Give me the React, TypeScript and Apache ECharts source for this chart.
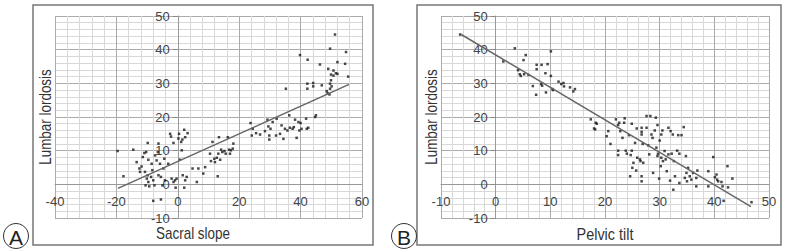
import React, { useEffect, useRef } from "react";
import * as echarts from "echarts";

const FONT = "'Liberation Sans', Arial, sans-serif";

// Panel A: sacral slope vs lumbar lordosis
const sacralAxis = { min: -40, max: 60, interval: 20 };
const lordosisAxis = { min: -10, max: 50, interval: 10 };
const pointsA: [number, number][] = [
  [-19.6, 9.9], [-17.7, 2.4], [-14.5, 10.3], [-13.4, 6.6], [-12.5, 4.7], [-12.3, 3.7], [-11.4, 8.1], [-10.9, 9.3],
  [-10.3, 9.6], [-9.8, 12.3], [-9.6, 7.3], [-11.8, 5.3], [-10.7, 3.7], [-9.8, 2.7], [-10.1, 1.7], [-9.6, 0.7],
  [-10.5, -0.3], [-9.3, -0.6], [-8.5, 6.1], [-8.3, 4.2], [-8.7, 2.2], [-8.0, 1.2], [-7.6, -0.3], [-7.4, 8.6],
  [-6.5, 9.6], [-6.3, 12.1], [-6.9, 7.1], [-5.8, 6.1], [-5.5, 2.2], [-6.3, 2.7], [-4.7, 4.7], [-4.4, 7.6],
  [-4.2, 1.2], [-5.0, -0.3], [-3.1, 6.1], [-2.5, 15.0], [-2.2, 14.2], [-1.4, 12.3], [-2.0, 1.7], [-1.4, 0.7],
  [-0.9, 1.2], [-0.4, 1.7], [-0.7, -1.0], [0.2, 13.6], [0.4, 15.0], [1.1, 12.6], [1.5, 13.3], [2.1, 16.2],
  [2.4, 14.0], [3.2, 15.2], [1.3, 10.1], [0.7, 7.3], [1.6, 2.7], [2.4, 1.2], [2.1, -1.0], [2.9, 2.2],
  [4.8, 4.7], [6.2, 0.7], [6.7, 4.7], [8.3, 3.2], [8.9, 5.1], [10.5, 9.1], [10.8, 6.9], [11.3, 12.6],
  [11.9, 7.6], [12.1, 6.6], [12.7, 7.9], [13.2, 9.1], [13.4, 14.0], [13.8, 7.3], [14.1, 10.3], [13.0, 2.4],
  [14.5, 9.6], [15.2, 9.9], [15.6, 9.1], [16.3, 14.0], [16.7, 10.3], [17.0, 9.1], [17.3, 10.1], [18.1, 12.1],
  [-8.0, -4.9], [-5.5, -4.5], [17.9, 10.6],
  [23.7, 18.2], [24.4, 16.5], [24.1, 14.5], [25.5, 15.2], [26.8, 14.8], [28.4, 15.8], [29.2, 19.2], [29.5, 17.2],
  [29.8, 14.5], [30.2, 16.5], [29.8, 13.3], [30.9, 18.5], [32.0, 14.5], [32.2, 19.5], [33.3, 15.0], [33.8, 17.5],
  [34.4, 13.5], [34.9, 16.5], [35.2, 28.4], [35.7, 16.0], [36.3, 20.5], [36.5, 16.8], [37.4, 16.5], [37.8, 17.0],
  [38.2, 19.2], [38.7, 13.8], [39.3, 18.5], [39.6, 16.0], [40.0, 18.2], [40.3, 16.5], [39.8, 38.4], [42.0, 16.5],
  [42.3, 37.0], [42.5, 16.8], [42.2, 28.4], [42.2, 29.9], [44.1, 30.1], [44.1, 29.1], [41.8, 19.5], [44.7, 20.0],
  [45.0, 20.5], [46.3, 35.6], [46.9, 29.4], [48.5, 27.7], [48.8, 27.1], [49.4, 26.7], [49.6, 28.4], [49.6, 29.9],
  [49.9, 30.9], [50.1, 29.1], [49.0, 34.3], [49.6, 40.3], [49.9, 32.6], [50.7, 33.8], [51.2, 44.5], [51.5, 33.0],
  [52.0, 36.3], [52.0, 32.8], [50.7, 32.3], [54.5, 35.8], [54.8, 39.3], [55.5, 32.0],
];
const fitA: [number, number][] = [[-19.5, -1.2], [55.8, 29.7]];

// Panel B: pelvic tilt vs lumbar lordosis
const pelvicAxis = { min: -10, max: 50, interval: 10 };
const pointsB: [number, number][] = [
  [-6.5, 44.5], [1.4, 36.5], [3.5, 40.4], [4.1, 33.9], [4.4, 32.7], [4.6, 32.2], [5.2, 32.7], [5.1, 36.9],
  [5.5, 38.4], [6.0, 32.5], [6.8, 29.2], [7.4, 26.6], [7.5, 35.5], [7.5, 34.2], [8.4, 35.5], [8.3, 29.8],
  [8.5, 29.3], [9.1, 33.0], [9.2, 27.3], [9.5, 35.7], [10.1, 39.5], [10.1, 32.2], [10.4, 28.3], [10.5, 28.0],
  [11.5, 30.5], [12.0, 29.8], [12.4, 30.1], [12.5, 29.1], [13.6, 28.8], [14.2, 27.6], [14.5, 28.3],
  [17.4, 19.3], [18.5, 18.0], [18.2, 16.3], [18.3, 18.3], [18.0, 16.6],
  [20.3, 14.3], [20.6, 15.8], [21.0, 12.0], [22.0, 19.3], [22.4, 17.6], [22.6, 18.3], [22.8, 15.8], [22.4, 10.0],
  [22.4, 8.7], [23.2, 13.8], [23.5, 18.3], [23.6, 19.6], [23.8, 10.0], [24.0, 9.1], [24.4, 14.6], [24.6, 2.4],
  [24.7, 8.7], [24.9, 18.0], [24.9, 10.0], [25.0, 4.9], [25.2, 6.4], [25.5, 12.3], [25.7, 4.1], [25.8, 16.6],
  [25.9, 7.9], [26.4, 7.4], [26.5, 6.9], [26.7, 16.8], [26.7, 15.6], [26.7, 14.8], [26.7, 2.4], [26.7, 0.9],
  [26.9, 12.0], [27.0, 6.4], [27.6, 16.8], [27.6, 20.3], [27.9, 11.6], [28.1, 8.9], [28.3, 20.3], [28.5, 14.8],
  [28.7, 13.8], [28.8, 3.4], [29.1, 16.0], [29.3, 19.8], [29.4, 10.9], [29.6, 8.4], [29.6, 17.6], [29.7, 9.1],
  [29.9, 1.7], [30.0, 13.0], [30.2, 5.4], [30.3, 14.8], [30.3, 7.9], [30.5, 16.0], [30.6, 6.9], [30.9, 9.9],
  [31.1, 7.4], [31.3, 3.9], [31.6, 16.8], [31.6, 8.9], [31.9, 1.1], [32.0, 15.8], [32.2, 9.1], [32.4, 14.8],
  [32.5, -1.6], [32.6, 6.9], [32.8, 2.4], [33.2, 10.0], [33.4, 14.6], [33.6, 9.1], [33.6, 0.4], [34.0, 14.6],
  [34.4, 17.0], [34.6, 1.9], [34.8, 8.4], [34.9, 3.4], [35.0, 0.9], [35.2, 4.9], [35.5, 2.4], [35.8, 1.4],
  [36.1, 3.4], [36.7, 1.9], [36.9, 4.1], [36.7, -0.6], [38.9, 3.9], [38.9, -0.6], [39.8, 8.1], [40.1, 2.1],
  [40.4, 2.9], [40.5, 1.4], [40.7, 0.9], [41.3, 0.7], [41.5, -0.6], [42.4, 5.4], [42.5, -0.9], [43.3, 1.7],
  [46.8, -5.3], [41.7, -4.9],
];
const fitB: [number, number][] = [[-6.3, 44.5], [46.7, -6.6]];

const labelStyle = { fontSize: 13, color: "#444", fontFamily: FONT };
const majorLine = { color: "#ababab", width: 1 };
const minorLine = { color: "#d8d8d8", width: 1 };

type Range = { min: number; max: number; interval: number };

// Offset (px) that puts an axis on the other axis' zero, derived from the other axis' range and the grid size.
function zeroOffset(r: Range, sizePx: number) {
  return -((0 - r.min) / (r.max - r.min)) * sizePx;
}

function xAxisCfg(gridIndex: number, r: Range, offset: number) {
  return {
    type: "value", gridIndex, min: r.min, max: r.max, interval: r.interval, position: "bottom", offset,
    axisLine: { show: true, onZero: false, lineStyle: { color: "#999", width: 1 } },
    axisTick: { show: false },
    axisLabel: { ...labelStyle, margin: 11, showMinLabel: true, showMaxLabel: true },
    splitLine: { show: true, lineStyle: majorLine },
    minorTick: { show: false, splitNumber: 5 },
    minorSplitLine: { show: true, lineStyle: minorLine },
  };
}
function yAxisCfg(gridIndex: number, r: Range, offset: number) {
  return {
    type: "value", gridIndex, min: r.min, max: r.max, interval: r.interval, position: "left", offset,
    axisLine: { show: true, onZero: false, lineStyle: { color: "#999", width: 1 } },
    axisTick: { show: true, length: 5, lineStyle: { color: "#888" } },
    axisLabel: { ...labelStyle, margin: 8, showMinLabel: true, showMaxLabel: true },
    splitLine: { show: true, lineStyle: majorLine },
    minorTick: { show: false, splitNumber: 5 },
    minorSplitLine: { show: true, lineStyle: minorLine },
  };
}

const GA = { left: 55, top: 16, width: 307, height: 202 };
const GB = { left: 441, top: 16, width: 328, height: 202 };

export default function App() {
  const ref = useRef<HTMLDivElement>(null);
  useEffect(() => {
    if (!ref.current) return;
    const chart = echarts.init(ref.current, undefined, { renderer: "svg" });
    const scatterStyle = { color: "#1a1a1a" };
    const titleStyle = { fontSize: 16, fontFamily: FONT, fill: "#333", align: "center", verticalAlign: "middle" };
    const letterStyle = { align: "center", verticalAlign: "middle", fontSize: 21, fontFamily: FONT, fill: "#222" };
    chart.setOption({
      animation: false,
      backgroundColor: "#fff",
      grid: [GA, GB],
      xAxis: [
        xAxisCfg(0, sacralAxis, zeroOffset(lordosisAxis, GA.height)),
        xAxisCfg(1, pelvicAxis, zeroOffset(lordosisAxis, GB.height)),
      ],
      yAxis: [
        yAxisCfg(0, lordosisAxis, zeroOffset(sacralAxis, GA.width)),
        yAxisCfg(1, lordosisAxis, zeroOffset(pelvicAxis, GB.width)),
      ],
      series: [
        { type: "scatter", xAxisIndex: 0, yAxisIndex: 0, data: pointsA, symbol: "rect", symbolSize: 2.5, itemStyle: scatterStyle, silent: true },
        { type: "line", xAxisIndex: 0, yAxisIndex: 0, data: fitA, symbol: "none", lineStyle: { color: "#666", width: 1.5 }, silent: true },
        { type: "scatter", xAxisIndex: 1, yAxisIndex: 1, data: pointsB, symbol: "rect", symbolSize: 2.5, itemStyle: scatterStyle, silent: true },
        { type: "line", xAxisIndex: 1, yAxisIndex: 1, data: fitB, symbol: "none", lineStyle: { color: "#666", width: 1.5 }, silent: true },
      ],
      graphic: [
        { type: "rect", shape: { x: 33, y: 5, width: 340, height: 240 }, style: { fill: "none", stroke: "#777", lineWidth: 1.5 } },
        { type: "rect", shape: { x: 417, y: 5, width: 364, height: 240 }, style: { fill: "none", stroke: "#777", lineWidth: 1.5 } },
        { type: "text", x: 46, y: 117, rotation: Math.PI / 2, scaleX: 0.84, style: { ...titleStyle, text: "Lumbar lordosis" } },
        { type: "text", x: 432, y: 117, rotation: Math.PI / 2, scaleX: 0.84, style: { ...titleStyle, text: "Lumbar lordosis" } },
        { type: "text", x: 193, y: 234, scaleX: 0.84, style: { ...titleStyle, text: "Sacral slope" } },
        { type: "text", x: 605, y: 234, scaleX: 0.9, style: { ...titleStyle, text: "Pelvic tilt" } },
        { type: "circle", shape: { cx: 16, cy: 236, r: 12.5 }, style: { fill: "#fff", stroke: "#333", lineWidth: 1 } },
        { type: "text", x: 16, y: 237, style: { ...letterStyle, text: "A" } },
        { type: "circle", shape: { cx: 404, cy: 236, r: 12.5 }, style: { fill: "#fff", stroke: "#333", lineWidth: 1 } },
        { type: "text", x: 404, y: 237, style: { ...letterStyle, text: "B" } },
      ],
    });
    return () => chart.dispose();
  }, []);
  return <div ref={ref} style={{ position: "absolute", left: 0, top: 0, width: 786, height: 250 }} />;
}
